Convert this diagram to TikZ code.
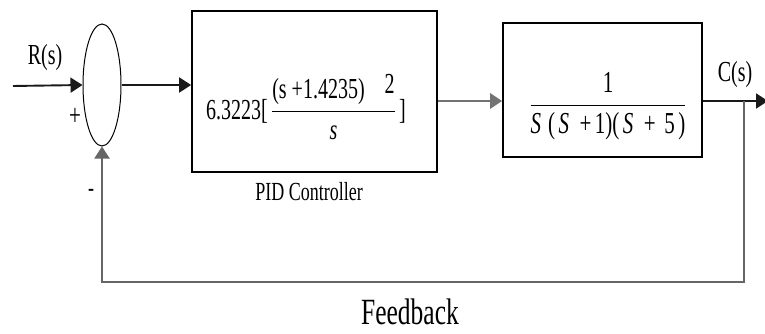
\documentclass[tikz,border=0pt]{standalone}
\usepackage{amsmath}
\usepackage{graphicx}
\usepackage{fontspec}
\setmainfont{Liberation Serif}
\usepackage{tikz}
\usetikzlibrary{calc, arrows.meta, shapes.geometric}

\newcommand{\tallt}[1]{\scalebox{1}[1.45]{#1}}
\tikzset{
  blk/.style={draw, line width=1.7pt, inner sep=0pt},
  sig/.style={line width=1.9pt, -{Triangle[length=12pt,width=15pt]}},
  txt/.style={font=\fontsize{#1}{#1}\selectfont, inner sep=0pt},
}

\begin{document}
\begin{tikzpicture}[x=1pt,y=-1pt]
      \useasboundingbox (0,0) rectangle (765,334);
      % blocks
      \node[blk, ellipse, line width=1pt, minimum width=38pt, minimum height=122pt] (sum) at (102,85) {};
      \node[blk, minimum width=245pt, minimum height=161pt] (pid) at (314.5,91.5) {};
      \node[blk, minimum width=199pt, minimum height=134pt] (plant) at (602.5,90) {};
      % points on the signal lines
      \coordinate (in) at (13,86);
      \coordinate (c) at (744,101);
      \coordinate (out) at (768,101);
      \coordinate (fb) at (744,282);
      % signals
      \draw[sig, black!90] (in) -- (sum.west);
      \draw[sig, black!90] (sum.east) -- (pid.west |- sum.east);
      \draw[sig, black!55, line width=2.8pt] (pid.east |- c) -- (plant.west |- c);
      \draw[sig, black!90] (plant.east |- c) -- (out);
      \draw[sig, black!60] (c) -- (fb) -| (sum.south);
      % texts
      \node[txt=20] (rs) at (45,58) {\tallt{R(s)}};
      \node[txt=21] (plus) at (75,117) {\tallt{+}};
      \node[txt=18] (minus) at (91,193) {\tallt{-}};
      \node[txt=20] (pidtf) at (306,107) {\tallt{6.3223[\,$\dfrac{\text{(s +1.4235)\quad\raisebox{4pt}{2}}}{\textit{s}}$\,]}};
      \node[txt=21] (planttf) at (608,106) {\tallt{$\dfrac{\text{1}}{\text{\textit{S}\,\,(\,\textit{S}\ \ +\,1)(\,\textit{S}\ \ +\ \,5\,)}}$}};
      \node[txt=18] (pidlbl) at (309,192) {\tallt{PID Controller}};
      \node[txt=20] (cs) at (735,75) {\tallt{C(s)}};
      \node[txt=25.5] (fblbl) at (410,312) {\tallt{Feedback}};
\end{tikzpicture}
\end{document}
